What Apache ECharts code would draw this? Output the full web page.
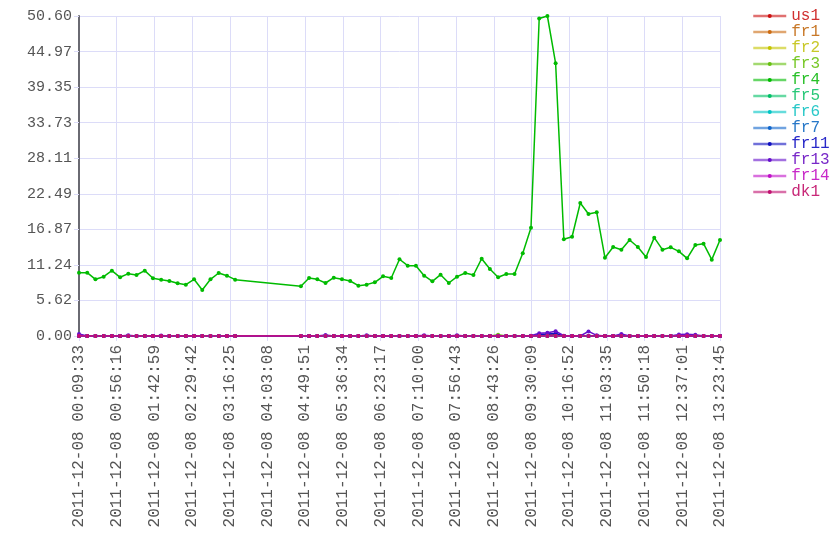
<!DOCTYPE html>
<html>
<head>
<meta charset="utf-8">
<script src="https://cdn.jsdelivr.net/npm/echarts@6/dist/echarts.min.js"></script>
<style>html,body{margin:0;padding:0;background:#fff}#c{width:840px;height:560px}</style>
</head>
<body>
<div id="c"></div>
<script>
const DATE = '2011-12-08';
const T_START = '00:09:33';
const T_END = '13:23:45';
const X_LABEL_COUNT = 18;
const Y_MAX = 50.596;
const Y_SPLITS = 9;

const seriesNames = ['us1','fr1','fr2','fr3','fr4','fr5','fr6','fr7','fr11','fr13','fr14','dk1'];
const seriesColors = ['#cc1010','#cc6a10','#c4c400','#66c010','#00bb00','#00c066','#00c4c4','#1066cc','#1010c0','#6610cc','#c010c8','#c01070'];
const legendTextColors = ['#d03030','#c87828','#c8c828','#78c828','#28c028','#28c878','#28c8c8','#2878c8','#2828c8','#7828c8','#c828c8','#c82878'];

const times = [
  "00:09:33","00:19:44","00:29:55","00:40:06","00:50:17","01:00:28","01:10:38","01:20:49","01:31:00","01:41:11",
  "01:51:22","02:01:33","02:11:44","02:21:55","02:32:06","02:42:17","02:52:27","03:02:38","03:12:49","03:23:00",
  "04:44:27","04:54:38","05:04:49","05:15:00","05:25:11","05:35:22","05:45:33","05:55:44","06:05:55","06:16:06",
  "06:26:16","06:36:27","06:46:38","06:56:49","07:07:00","07:17:11","07:27:22","07:37:33","07:47:44","07:57:55",
  "08:08:05","08:18:16","08:28:27","08:38:38","08:48:49","08:59:00","09:09:11","09:19:22","09:29:33","09:39:44",
  "09:49:54","10:00:05","10:10:16","10:20:27","10:30:38","10:40:49","10:51:00","11:01:11","11:11:22","11:21:33",
  "11:31:44","11:41:55","11:52:05","12:02:16","12:12:27","12:22:38","12:32:49","12:43:00","12:53:11","13:03:22",
  "13:13:33","13:23:45"
];

const us1 = [
  0,0,0,0,0,0,0,0,0,0, 0,0,0,0,0,0,0,0,0,0,
  0,0,0,0,0,0,0,0,0,0, 0,0,0,0,0,0,0,0,0,0,
  0,0,0,0,0,0,0,0,0,0, 0.15,0.15,0,0,0,0,0,0,0,0,
  0,0,0,0,0,0,0,0,0,0, 0,0
];
const fr1 = [
  0,0,0,0,0,0,0,0,0,0, 0,0,0,0,0,0,0,0,0,0,
  0,0,0,0,0,0,0,0,0,0, 0,0,0,0,0,0,0,0,0,0,
  0,0,0,0,0,0,0,0,0,0, 0,0,0,0,0,0,0,0,0,0,
  0,0,0,0,0,0,0,0,0,0, 0,0
];
const fr2 = [
  0,0,0,0,0,0,0,0,0,0, 0,0,0,0,0,0,0,0,0,0,
  0,0,0,0,0,0,0,0,0,0, 0,0,0,0,0,0,0,0,0,0,
  0,0,0,0,0,0,0,0,0,0, 0,0,0,0,0,0,0,0,0,0,
  0,0,0,0,0,0,0,0,0,0, 0,0
];
const fr3 = [
  0,0,0,0,0,0,0,0,0,0, 0,0,0,0,0,0,0,0,0,0,
  0,0,0,0,0,0,0,0,0,0, 0,0,0,0,0,0,0,0,0,0,
  0,0,0,0,0.2,0,0,0,0,0, 0,0,0,0,0,0,0,0,0,0,
  0,0,0,0,0,0,0,0,0,0, 0,0
];
const fr4 = [
  10.01,10.01,8.96,9.38,10.33,9.28,9.86,9.65,10.33,9.12,
  8.91,8.70,8.33,8.12,8.96,7.27,8.96,9.96,9.54,8.91,
  7.86,9.17,8.96,8.38,9.22,8.96,8.70,7.96,8.12,8.49,
  9.44,9.17,12.13,11.12,11.12,9.54,8.65,9.70,8.38,9.38,
  9.96,9.65,12.22,10.59,9.28,9.80,9.80,13.07,17.13,50.20,
  50.596,43.12,15.29,15.70,21.03,19.29,19.56,12.38,14.07,13.65,
  15.18,14.07,12.49,15.55,13.65,14.02,13.39,12.28,14.39,14.60,
  12.07,15.18
];
const fr5 = [
  0,0,0,0,0,0,0,0,0,0, 0,0,0,0,0,0,0,0,0,0,
  0,0,0,0,0,0,0,0,0,0, 0,0,0,0,0,0,0,0,0,0,
  0,0,0,0,0,0,0,0,0,0, 0,0,0,0,0,0,0,0,0,0,
  0,0,0,0,0,0,0,0,0,0, 0,0
];
const fr6 = [
  0,0,0,0,0,0,0,0,0,0, 0,0,0,0,0,0,0,0,0,0,
  0,0,0,0,0,0,0,0,0,0, 0,0,0,0,0,0,0,0,0,0,
  0,0,0,0,0,0,0,0,0,0, 0,0,0,0,0,0,0,0,0,0,
  0,0,0,0,0,0,0,0,0,0, 0,0
];
const fr7 = [
  0,0,0,0,0,0,0,0,0,0, 0,0,0,0,0,0,0,0,0,0,
  0,0,0,0,0,0,0,0,0,0, 0,0,0,0,0,0,0,0,0,0,
  0,0,0,0,0,0,0,0,0,0, 0,0,0,0,0,0,0,0,0,0,
  0,0,0,0,0,0,0,0,0,0, 0,0
];
const fr11 = [
  0,0,0,0,0,0,0,0,0,0, 0,0,0,0,0,0,0,0,0,0,
  0,0,0,0,0,0,0,0,0,0, 0,0,0,0,0,0,0,0,0,0,
  0,0,0,0,0,0,0,0,0,0.25, 0.3,0.4,0,0,0,0,0,0,0,0,
  0,0,0,0,0,0,0,0,0,0, 0,0
];
const fr13 = [
  0.3,0,0,0,0,0,0.1,0,0,0, 0.08,0,0,0,0,0,0,0,0,0,
  0,0,0,0.15,0,0,0,0,0.12,0, 0,0,0,0,0,0.12,0,0,0,0.12,
  0,0,0,0,0,0,0,0,0.05,0.45, 0.5,0.75,0.05,0,0,0.72,0.1,0,0,0.3,
  0,0,0,0,0,0,0.25,0.28,0.2,0, 0,0
];
const fr14 = [
  0,0,0,0,0,0,0,0,0,0, 0,0,0,0,0,0,0,0,0,0,
  0,0,0,0,0,0,0,0,0,0, 0,0,0,0,0,0,0,0,0,0,
  0,0,0,0,0,0,0,0,0,0, 0,0,0,0,0,0,0,0,0,0,
  0,0,0,0,0,0,0,0,0,0, 0,0
];
const dk1 = [
  0,0,0,0,0,0,0,0,0,0, 0,0,0,0,0,0,0,0,0,0,
  0,0,0,0,0,0,0,0,0,0, 0,0,0,0,0,0,0,0,0,0,
  0,0,0,0,0,0,0,0,0,0, 0,0,0,0,0,0,0,0,0,0,
  0,0,0,0,0,0,0,0,0,0, 0,0
];

const seriesValues = [us1, fr1, fr2, fr3, fr4, fr5, fr6, fr7, fr11, fr13, fr14, dk1];

function toSec(t){ const p = t.split(':').map(Number); return p[0]*3600 + p[1]*60 + p[2]; }
function pad(n){ return (n < 10 ? '0' : '') + n; }
function fmtSec(s){ s = Math.floor(s + 1e-6); return pad(Math.floor(s/3600)) + ':' + pad(Math.floor(s%3600/60)) + ':' + pad(s%60); }

const t0 = toSec(T_START);
const span = toSec(T_END) - t0;
const FONT = "'Liberation Mono', 'DejaVu Sans Mono', monospace";
const GRID_COLOR = '#dcdcf8';

const chart = echarts.init(document.getElementById('c'), null, {renderer: 'canvas'});
chart.setOption({
  animation: false,
  backgroundColor: '#ffffff',
  grid: { left: 79, right: 120, top: 16, bottom: 224, containLabel: false },
  legend: {
    orient: 'vertical',
    left: 752,
    top: 8,
    itemWidth: 33,
    itemHeight: 5,
    itemGap: 0,
    padding: 0,
    lineStyle: { width: 2.5, opacity: 0.6 },
    textStyle: { fontFamily: FONT, fontSize: 16, lineHeight: 16 },
    data: seriesNames.map((n, i) => ({ name: n, textStyle: { color: legendTextColors[i] } }))
  },
  xAxis: {
    type: 'value',
    min: 0,
    max: span,
    interval: span / (X_LABEL_COUNT - 1),
    axisLine: { show: false },
    axisTick: { show: true, length: 5, lineStyle: { color: GRID_COLOR } },
    splitLine: { show: true, lineStyle: { color: GRID_COLOR, width: 1 } },
    axisLabel: {
      rotate: 90,
      margin: 9,
      fontFamily: FONT,
      fontSize: 16,
      color: '#555',
      formatter: v => DATE + ' ' + fmtSec(v + t0)
    }
  },
  yAxis: {
    type: 'value',
    min: 0,
    max: Y_MAX,
    interval: Y_MAX / Y_SPLITS,
    axisLine: { show: true, lineStyle: { color: '#6a6a72', width: 2 } },
    axisTick: { show: true, length: 5, lineStyle: { color: GRID_COLOR } },
    splitLine: { show: true, lineStyle: { color: GRID_COLOR, width: 1 } },
    axisLabel: {
      margin: 7,
      fontFamily: FONT,
      fontSize: 15,
      color: '#555',
      formatter: v => v.toFixed(2)
    }
  },
  series: seriesNames.map((n, i) => ({
    name: n,
    type: 'line',
    color: seriesColors[i],
    symbol: 'circle',
    symbolSize: 4,
    showAllSymbol: true,
    lineStyle: { width: 1.5 },
    data: times.map((t, k) => [toSec(t) - t0, seriesValues[i][k]])
  }))
});
</script>
</body>
</html>
